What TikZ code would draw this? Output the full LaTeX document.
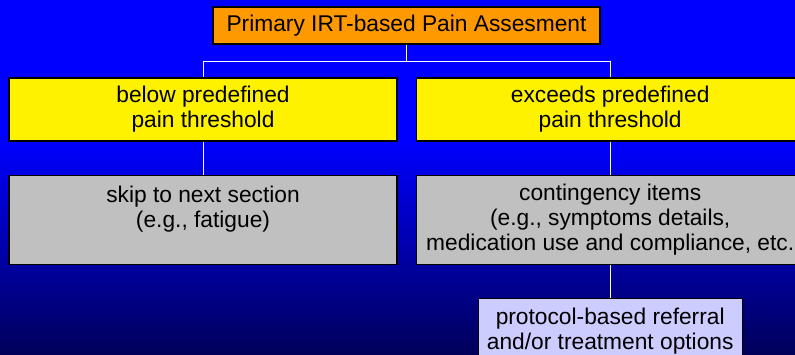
\documentclass[tikz,border=0pt]{standalone}
\usepackage{fontspec}
\setmainfont{Liberation Sans}
\usetikzlibrary{positioning}

\definecolor{slideblue}{RGB}{0,0,255}
\definecolor{slidenavy}{RGB}{0,0,90}
\definecolor{boxorange}{RGB}{255,153,0}
\definecolor{boxgray}{RGB}{192,192,192}
\definecolor{boxlilac}{RGB}{204,204,255}

\begin{document}
\begin{tikzpicture}[x=1pt,y=-1pt,node distance=33pt,font=\fontsize{22.75}{25}\selectfont]

	\tikzstyle{box}=[draw=black,line width=1.2pt,inner sep=0pt,align=center]
	\tikzstyle{col}=[box,minimum width=388pt]
	\tikzstyle{link}=[draw=white,line width=1pt]

	% background
	\clip (0,0) rectangle (795,354);
	\fill[slideblue] (0,0) rectangle (795,141);
	\shade[top color=slideblue,bottom color=slidenavy] (0,140) rectangle (795,354);

	\node[box,fill=boxorange,minimum width=387pt,minimum height=37pt] (top) at (406.5,25.5) {Primary IRT-based Pain Assesment};
	\node[col,fill=yellow,minimum height=63pt] (lowpain) at (203,109.5) {below predefined\\pain threshold};
	\node[col,fill=yellow,minimum height=63pt,right=18pt of lowpain] (highpain) {exceeds predefined\\pain threshold};
	\node[col,fill=boxgray,minimum height=89pt,below=of lowpain] (skip) {skip to next section\\(e.g., fatigue)\\\mbox{}};
	\node[col,fill=boxgray,minimum height=89pt,below=of highpain] (contingency) {contingency items\\(e.g., symptoms details,\\medication use and compliance, etc.};
	\node[box,fill=boxlilac,minimum width=264pt,minimum height=66pt,below=of contingency] (referral) {protocol-based referral\\and/or treatment options};

	\draw[link] (top.south) -- ++(0,17) coordinate (fork);
	\draw[link] (fork) -| (lowpain.north);
	\draw[link] (fork) -| (highpain.north);
	\draw[link] (lowpain.south) -- (skip.north);
	\draw[link] (highpain.south) -- (contingency.north);
	\draw[link] (contingency.south) -- (referral.north);
\end{tikzpicture}
\end{document}
